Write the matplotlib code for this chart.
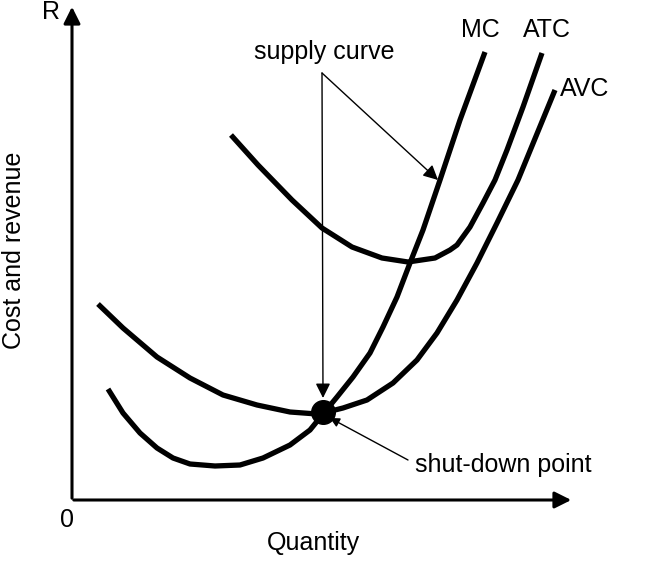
import matplotlib.pyplot as plt

plt.rcParams['font.family'] = ['Liberation Sans', 'DejaVu Sans']

# curves (quantity, cost), arbitrary units
mc_q = [0.72, 1.02, 1.36, 1.70, 2.02, 2.36, 2.86, 3.36, 3.82, 4.36, 4.76, 5.02,
        5.30, 5.62, 5.96, 6.22, 6.50, 6.76, 7.02, 7.36, 7.76, 8.26]
mc_c = [2.22, 1.74, 1.34, 1.04, 0.84, 0.72, 0.68, 0.70, 0.84, 1.10, 1.40, 1.72,
        2.06, 2.46, 2.94, 3.46, 4.06, 4.74, 5.40, 6.40, 7.60, 8.96]

atc_q = [3.18, 3.72, 4.40, 5.00, 5.60, 6.20, 6.72, 7.26, 7.56, 7.70, 7.96, 8.22,
         8.46, 8.70, 9.02, 9.40]
atc_c = [7.30, 6.70, 6.00, 5.44, 5.06, 4.84, 4.76, 4.84, 5.00, 5.10, 5.46, 5.94,
         6.40, 7.00, 7.86, 8.94]

avc_q = [0.52, 1.02, 1.70, 2.36, 3.02, 3.70, 4.36, 4.90, 5.10, 5.42, 5.90, 6.42,
         6.90, 7.30, 7.70, 8.10, 8.50, 8.92, 9.66]
avc_c = [3.92, 3.44, 2.86, 2.44, 2.10, 1.90, 1.76, 1.72, 1.76, 1.84, 2.00, 2.34,
         2.80, 3.34, 4.00, 4.74, 5.54, 6.40, 8.20]

shutdown = (5.02, 1.76)
supply_label = (5.0, 8.54)
supply_tips = [(5.02, 2.04), (7.32, 6.40)]

fig = plt.figure(figsize=(6.5, 5.61), dpi=100)
ax = fig.add_axes([0, 0, 1, 1])
ax.set_xlim(-1.44, 11.56)
ax.set_ylim(-1.22, 10.0)
ax.axis('off')

# axes with arrow heads
ax.annotate('', xy=(10.04, 0), xytext=(-0.02, 0),
            arrowprops=dict(arrowstyle='-|>', lw=2.2, color='black', mutation_scale=25))
ax.annotate('', xy=(0, 9.92), xytext=(0, -0.02),
            arrowprops=dict(arrowstyle='-|>', lw=2.2, color='black', mutation_scale=25))

for q, c in [(mc_q, mc_c), (atc_q, atc_c), (avc_q, avc_c)]:
    ax.plot(q, c, color='black', lw=3.8, solid_capstyle='butt', solid_joinstyle='round')

ax.plot(*shutdown, 'o', color='black', markersize=17)

for tip in supply_tips:
    ax.annotate('', xy=tip, xytext=supply_label,
                arrowprops=dict(arrowstyle='-|>', lw=1, color='black', mutation_scale=22,
                                shrinkA=0, shrinkB=0))
ax.annotate('', xy=(5.16, 1.64), xytext=(6.72, 0.80),
            arrowprops=dict(arrowstyle='-|>', lw=1, color='black', mutation_scale=14,
                            shrinkA=0, shrinkB=0))

fs = 18
ax.text(5.04, 8.96, 'supply curve', fontsize=fs, ha='center', va='center')
ax.text(8.62, 0.70, 'shut-down point', fontsize=fs, ha='center', va='center')
ax.text(8.16, 9.40, 'MC', fontsize=fs, ha='center', va='center')
ax.text(9.50, 9.40, 'ATC', fontsize=fs, ha='center', va='center')
ax.text(10.26, 8.22, 'AVC', fontsize=fs, ha='center', va='center')
ax.text(-0.42, 9.76, 'R', fontsize=fs, ha='center', va='center')
ax.text(-0.10, -0.40, '0', fontsize=fs, ha='center', va='center')
ax.text(4.82, -0.86, 'Quantity', fontsize=fs, ha='center', va='center')
ax.text(-1.16, 5.0, 'Cost and revenue', fontsize=fs, ha='center', va='center', rotation=90)

fig.savefig('out.png', dpi=100)
